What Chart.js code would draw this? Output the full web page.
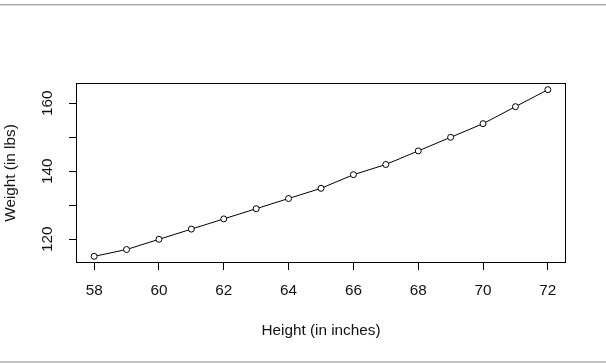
<!DOCTYPE html>
<html>
<head>
<meta charset="utf-8">
<script src="https://cdn.jsdelivr.net/npm/chart.js@4.4.1/dist/chart.umd.min.js"></script>
<style>
html,body{margin:0;padding:0;background:#fff;}
canvas{display:block;}
</style>
</head>
<body>
<canvas id="c" width="606" height="363"></canvas>
<script>
// Data (R "women" dataset)
const heights = [58, 59, 60, 61, 62, 63, 64, 65, 66, 67, 68, 69, 70, 71, 72];
const weights = [115, 117, 120, 123, 126, 129, 132, 135, 139, 142, 146, 150, 154, 159, 164];
const xTicks = [58, 60, 62, 64, 66, 68, 70, 72];
const yTicks = [120, 130, 140, 150, 160];
const yTickLabels = [120, 140, 160];

const FONT = '"Liberation Sans", Arial, sans-serif';
const FS = 15.3;

// R-style 4% axis extension
const xMin = 58 - 14 * 0.04, xMax = 72 + 14 * 0.04;
const yMin = 115 - 49 * 0.04, yMax = 164 + 49 * 0.04;

const decor = {
  id: 'decor',
  beforeDraw(chart) {
    const ctx = chart.ctx;
    ctx.save();
    ctx.fillStyle = '#fff';
    ctx.fillRect(0, 0, chart.width, chart.height);
    ctx.fillStyle = '#a8a8a8';
    ctx.fillRect(0, 4, chart.width, 1);
    ctx.fillStyle = '#dedede';
    ctx.fillRect(0, 5, chart.width, 1);
    ctx.fillStyle = '#c4c4c4';
    ctx.fillRect(0, 361, chart.width, 2);
    ctx.restore();
  },
  afterDraw(chart) {
    const ctx = chart.ctx;
    const a = chart.chartArea;
    ctx.save();
    ctx.strokeStyle = '#000';
    ctx.lineWidth = 1;
    ctx.strokeRect(a.left + 0.5, a.top + 0.5, a.right - a.left - 1, a.bottom - a.top - 1);
    // rotated y tick labels (R las=0 style)
    const ys = chart.scales.y;
    ctx.fillStyle = '#111';
    ctx.font = FS + 'px ' + FONT;
    ctx.textAlign = 'center';
    ctx.textBaseline = 'middle';
    yTickLabels.forEach(v => {
      const py = ys.getPixelForValue(v);
      ctx.save();
      ctx.translate(48, py);
      ctx.rotate(-Math.PI / 2);
      ctx.fillText(String(v), 0, 0);
      ctx.restore();
    });
    ctx.restore();
  }
};

new Chart(document.getElementById('c'), {
  type: 'scatter',
  data: {
    datasets: [{
      data: heights.map((h, i) => ({x: h, y: weights[i]})),
      showLine: true,
      borderColor: '#000',
      borderWidth: 1,
      pointRadius: 3,
      pointBorderWidth: 1,
      pointBackgroundColor: '#fff',
      pointBorderColor: '#000',
      tension: 0
    }]
  },
  options: {
    responsive: false,
    animation: false,
    devicePixelRatio: 1,
    layout: {padding: {top: 83, right: 40, left: 0, bottom: 0}},
    plugins: {legend: {display: false}, tooltip: {enabled: false}},
    scales: {
      x: {
        type: 'linear',
        min: xMin, max: xMax,
        afterBuildTicks(s) { s.ticks = xTicks.map(v => ({value: v})); },
        afterFit(s) { s.height = 100; },
        grid: {display: true, drawOnChartArea: false, drawTicks: true, tickLength: 7, color: '#000', lineWidth: 1},
        border: {display: false},
        ticks: {color: '#111', padding: 12, font: {family: FONT, size: FS}, maxRotation: 0, minRotation: 0, autoSkip: false},
        title: {display: true, text: 'Height (in inches)', color: '#111', font: {family: FONT, size: FS}, padding: {top: 0, bottom: 23}}
      },
      y: {
        type: 'linear',
        min: yMin, max: yMax,
        afterBuildTicks(s) { s.ticks = yTicks.map(v => ({value: v})); },
        afterFit(s) { s.width = 76; },
        grid: {display: true, drawOnChartArea: false, drawTicks: true, tickLength: 7, color: '#000', lineWidth: 1},
        border: {display: false},
        ticks: {display: false},
        title: {display: true, text: 'Weight (in lbs)', color: '#111', font: {family: FONT, size: FS}, padding: {top: 2, bottom: 0}}
      }
    }
  },
  plugins: [decor]
});
</script>
</body>
</html>
